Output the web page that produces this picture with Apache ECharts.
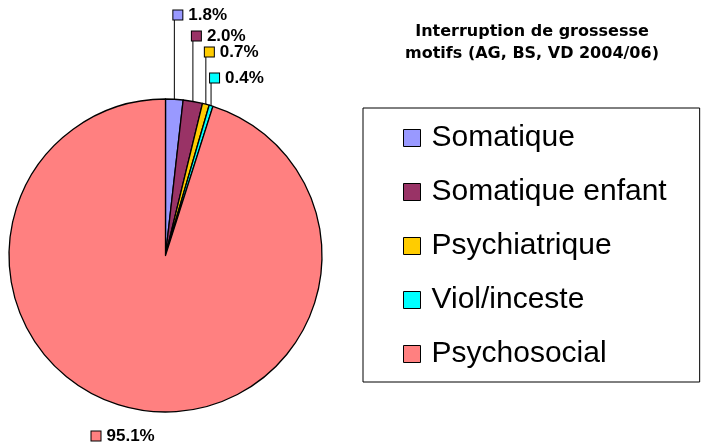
<!DOCTYPE html>
<html lang="fr">
<head>
    <meta charset="UTF-8">
    <title>Interruption de grossesse</title>
    <script src="https://cdn.jsdelivr.net/npm/echarts@6/dist/echarts.min.js"></script>
    <style>
        *{
            padding: 0;
            margin: 0;
        }
        html, body{
            width: 100%;
            height: 100%;
            background: #fff;
        }
        .echarts{
            width: 703px;
            height: 448px;
        }
    </style>
</head>
<body>
<div class="echarts"></div>
<script>
    // data
    const categories = ['Somatique', 'Somatique enfant', 'Psychiatrique', 'Viol/inceste', 'Psychosocial'];
    const shares = [1.8, 2.0, 0.7, 0.4, 95.1];
    const palette = ['#9999ff', '#993366', '#ffcc00', '#00ffff', '#ff8080'];

    window.onload = function () {
        let main = document.querySelector('.echarts');
        let myCharts = echarts.init(main);

        // y of the small labels above the pie
        let levels = [15, 36, 52, 78];

        let data = categories.map((name, i) => {
            let item = {
                name: name,
                value: shares[i],
                itemStyle: {color: palette[i]},
                label: {
                    formatter: '{s|}{t|' + shares[i].toFixed(1) + '%}',
                    rich: {
                        s: {
                            width: 9,
                            height: 9,
                            backgroundColor: palette[i],
                            borderColor: '#000',
                            borderWidth: 1
                        },
                        t: {
                            fontFamily: 'Liberation Sans',
                            fontWeight: 'bold',
                            fontSize: 17,
                            color: '#000',
                            padding: [0, 0, 0, 6]
                        }
                    }
                }
            };
            if (i === 4) {
                item.labelLine = {show: false};
            }
            return item;
        });

        let option = {
            backgroundColor: '#fff',
            animation: false,
            title: {
                text: 'Interruption de grossesse\nmotifs (AG, BS, VD 2004/06)',
                left: 532,
                top: 21,
                padding: 0,
                textAlign: 'center',
                textStyle: {
                    fontFamily: 'DejaVu Sans',
                    fontWeight: 'bold',
                    fontSize: 16,
                    lineHeight: 22,
                    color: '#000'
                }
            },
            legend: {
                orient: 'vertical',
                left: 363,
                top: 108,
                padding: [15, 33, 13, 40],
                itemGap: 24,
                itemWidth: 17,
                itemHeight: 17,
                icon: 'rect',
                selectedMode: false,
                borderColor: '#000',
                borderWidth: 1,
                itemStyle: {
                    borderColor: '#000',
                    borderWidth: 1
                },
                textStyle: {
                    fontFamily: 'Liberation Sans',
                    fontSize: 30,
                    lineHeight: 30,
                    color: '#000',
                    padding: [0, 0, 0, 6]
                },
                data: categories
            },
            series: [{
                type: 'pie',
                center: [165.5, 255.5],
                radius: 156.5,
                startAngle: 90,
                clockwise: true,
                avoidLabelOverlap: false,
                itemStyle: {
                    borderColor: '#000',
                    borderWidth: 1.3
                },
                label: {
                    show: true,
                    position: 'outside'
                },
                labelLine: {
                    show: true,
                    length: 10,
                    length2: 0,
                    lineStyle: {color: '#000', width: 1}
                },
                labelLayout: function (params) {
                    let i = params.dataIndex;
                    let p = params.labelLinePoints;
                    if (!p) return {};
                    let ax = p[0][0], ay = p[0][1];
                    if (i === 4) {
                        return {x: ax - 50, y: 436, align: 'left', verticalAlign: 'middle'};
                    }
                    let ly = levels[i];
                    return {
                        x: ax - 1,
                        y: ly,
                        align: 'left',
                        verticalAlign: 'middle',
                        labelLinePoints: [[ax, ay], [ax, ly + 5], [ax, ly + 5]]
                    };
                },
                emphasis: {disabled: true},
                data: data
            }]
        };
        myCharts.setOption(option);
    }
</script>
</body>
</html>
